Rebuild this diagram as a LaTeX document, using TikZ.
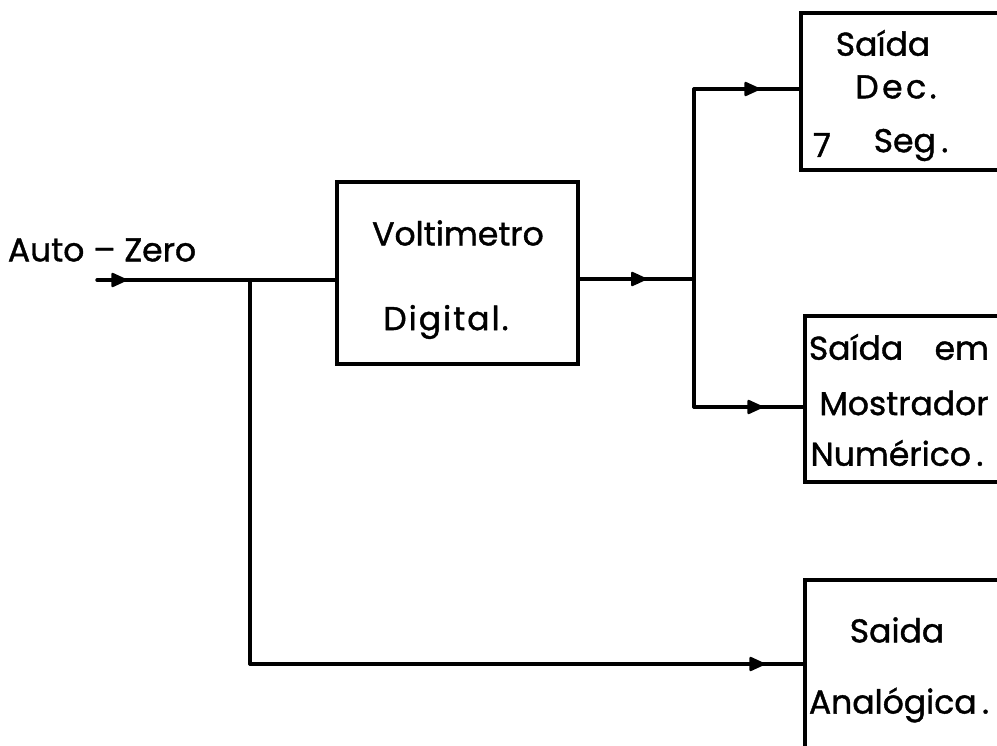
\documentclass[tikz,border=0pt]{standalone}
\usepackage{fontspec}
\setmainfont{Poppins}[FakeBold=1.2]
\usetikzlibrary{arrows.meta,decorations.markings}
\tikzset{
  wire/.style={line width=3.4pt, line cap=round},
  box/.style={draw, line width=3.4pt, minimum width=#1, inner sep=0pt},
  lbl/.style={font=\fontsize{33}{36}\selectfont, inner sep=0pt, anchor=center},
  marrow/.style={postaction=decorate, decoration={markings,
     mark=at position #1 with {\arrow[line width=2pt]{Triangle[length=17pt,width=15pt,round]}}}}
}
\newcommand{\ks}{\kern2pt}
\newcommand{\kw}{\kern3.5pt}
\begin{document}
\begin{tikzpicture}[x=1pt,y=-1pt]
\useasboundingbox (0,0) rectangle (997,746);
\clip (0,0) rectangle (997,746);
% boxes
\node[box=241pt, minimum height=182pt] (v) at (457.5,273) {};
\node[box=300pt, minimum height=157pt] (t) at (951,91.5) {};
\node[box=300pt, minimum height=166pt] (m) at (955,399) {};
\node[box=300pt, minimum height=240pt] (b) at (955,700) {};
% junctions
\coordinate (ain) at (97,280);
\coordinate (br) at (250,280);
\coordinate (sp) at (694,279);
\coordinate (tj) at (694,89);
\coordinate (mj) at (694,407);
\coordinate (bj) at (250,664);
% connectors
\draw[wire, marrow=30pt] (ain) -- (v.west |- ain);
\draw[wire] (br) -- (bj);
\draw[wire, marrow=515pt] (bj) -- (b.west |- bj);
\draw[wire, marrow=67pt] (v.east |- sp) -- (sp);
\draw[wire] (tj) -- (mj);
\draw[wire, marrow=66pt] (tj) -- (t.west |- tj);
\draw[wire, marrow=69pt] (mj) -- (m.west |- mj);
% labels
\node[lbl] (lauto) at (102,250) {Auto – Zero};
\node[lbl] (lv1) at (458,233) {Voltimetro};
\node[lbl] (lv2) at (446,322) {D\ks i\ks g\ks i\ks t\ks a\ks l\ks .};
\node[lbl] (lt1) at (883,43) {Saída};
\node[lbl] (lt2) at (896,87) {D\kw e\kw c\kw .};
\node[lbl] (lt3) at (822,145) {7};
\node[lbl] (lt4) at (911,145) {Seg\,.};
\node[lbl] (lm1) at (899,347) {Saída\hspace{0.95em}em};
\node[lbl] (lm2) at (904,403) {Mostrador};
\node[lbl] (lm3) at (897,453) {Numérico\,.};
\node[lbl] (lb1) at (897,630) {Saida};
\node[lbl] (lb2) at (899,705) {Analógica\,.};
\end{tikzpicture}
\end{document}
